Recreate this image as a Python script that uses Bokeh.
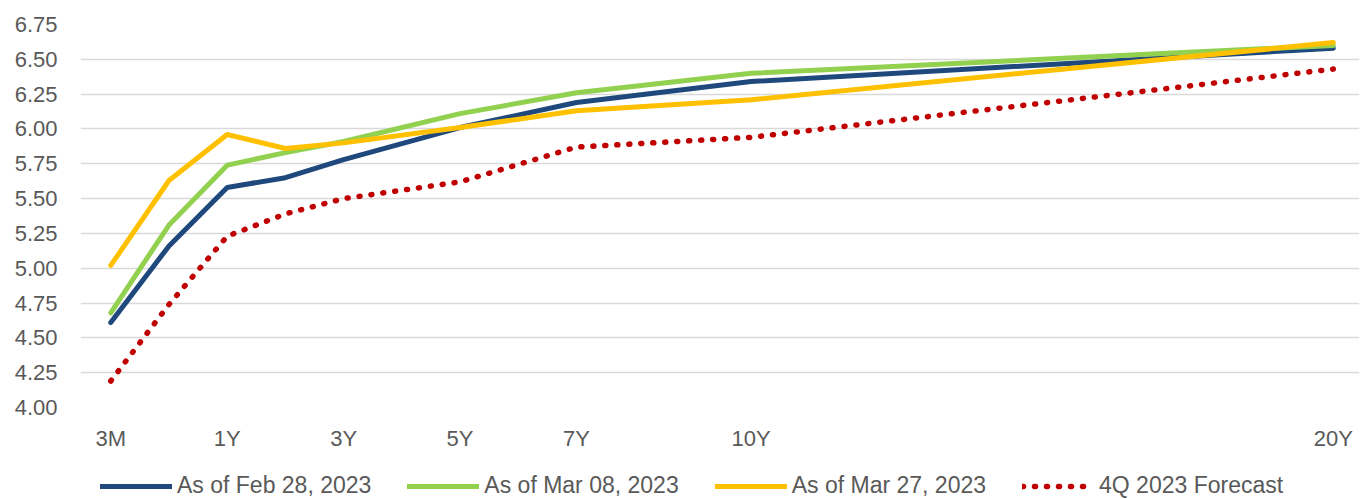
from bokeh.plotting import figure
from bokeh.layouts import column
from bokeh.models import Range1d, FixedTicker, NumeralTickFormatter, Legend, LegendItem
from bokeh.embed import file_html
from bokeh.resources import INLINE

# Axis categories (equally spaced) and tenors with data
axis_categories = ["3M", "6M", "1Y", "2Y", "3Y", "4Y", "5Y", "6Y", "7Y", "8Y", "9Y",
                   "10Y", "11Y", "12Y", "13Y", "14Y", "15Y", "16Y", "17Y", "18Y", "19Y", "20Y"]
labeled_tenors = ["3M", "1Y", "3Y", "5Y", "7Y", "10Y", "20Y"]
tenors = ["3M", "6M", "1Y", "2Y", "3Y", "5Y", "7Y", "10Y", "20Y"]

feb28 = [4.61, 5.16, 5.58, 5.65, 5.78, 6.01, 6.19, 6.34, 6.58]
mar08 = [4.68, 5.31, 5.74, 5.83, 5.91, 6.11, 6.26, 6.40, 6.60]
mar27 = [5.02, 5.63, 5.96, 5.86, 5.90, 6.01, 6.13, 6.21, 6.62]
fcst4q = [4.19, 4.74, 5.23, 5.39, 5.50, 5.62, 5.87, 5.94, 6.43]

series_names = ["As of Feb 28, 2023", "As of Mar 08, 2023", "As of Mar 27, 2023", "4Q 2023 Forecast"]
y_ticks = [4.00, 4.25, 4.50, 4.75, 5.00, 5.25, 5.50, 5.75, 6.00, 6.25, 6.50, 6.75]

x = [axis_categories.index(t) for t in tenors]
label_pos = [axis_categories.index(t) for t in labeled_tenors]
all_series = [feb28, mar08, mar27, fcst4q]

FONT = "Liberation Sans"
TXT = "#595959"
styles = [
    dict(line_color="#1F497D", line_width=5, line_join="round", line_cap="round"),
    dict(line_color="#92D050", line_width=5, line_join="round", line_cap="round"),
    dict(line_color="#FFC000", line_width=5, line_join="round", line_cap="round"),
    dict(line_color="#C00000", line_width=5.5, line_dash="1 11", line_cap="round"),
]

p = figure(width=1364, height=453, output_backend="svg", toolbar_location=None,
           x_range=Range1d(-0.52, 21.45), y_range=Range1d(4.0, 6.75),
           min_border_left=80, min_border_right=5, min_border_top=24, min_border_bottom=44)
p.outline_line_color = None
p.background_fill_color = "white"
p.border_fill_color = "white"

p.xaxis.ticker = FixedTicker(ticks=label_pos)
p.xaxis.major_label_overrides = {pos: lab for pos, lab in zip(label_pos, labeled_tenors)}
p.yaxis.ticker = FixedTicker(ticks=y_ticks)
p.yaxis.formatter = NumeralTickFormatter(format="0.00")
for ax in (p.xaxis, p.yaxis):
    ax.axis_line_color = None
    ax.major_tick_line_color = None
    ax.minor_tick_line_color = None
    ax.major_label_text_font = FONT
    ax.major_label_text_font_size = "22px"
    ax.major_label_text_color = TXT
p.yaxis.major_label_standoff = 17
p.xaxis.major_label_standoff = 12

p.xgrid.grid_line_color = None
p.ygrid.grid_line_color = "#d9d9d9"
p.ygrid.grid_line_width = 1.5

for series, st in zip(all_series, styles):
    p.line(x, series, **st)

# Legend strip below the chart (its lines fall outside this strip's ranges; only the legend shows)
lg = figure(width=1364, height=46, output_backend="svg", toolbar_location=None,
            x_range=Range1d(0, 1), y_range=Range1d(0, 1),
            min_border_left=0, min_border_right=0, min_border_top=0, min_border_bottom=0)
lg.axis.visible = False
lg.grid.visible = False
lg.outline_line_color = None
lg.border_fill_color = "white"
proxies = [lg.line(x, series, **st) for series, st in zip(all_series, styles)]
legend = Legend(items=[LegendItem(label=n, renderers=[r]) for n, r in zip(series_names, proxies)],
                orientation="horizontal", location=(20, 0),
                glyph_width=72, glyph_height=26, label_height=26, label_standoff=5, spacing=36,
                padding=0, margin=0, border_line_color=None, background_fill_alpha=0,
                label_text_font=FONT, label_text_font_size="23px", label_text_color=TXT)
lg.add_layout(legend, "center")

open("out.html", "w").write(file_html(column(p, lg, spacing=0), INLINE))
